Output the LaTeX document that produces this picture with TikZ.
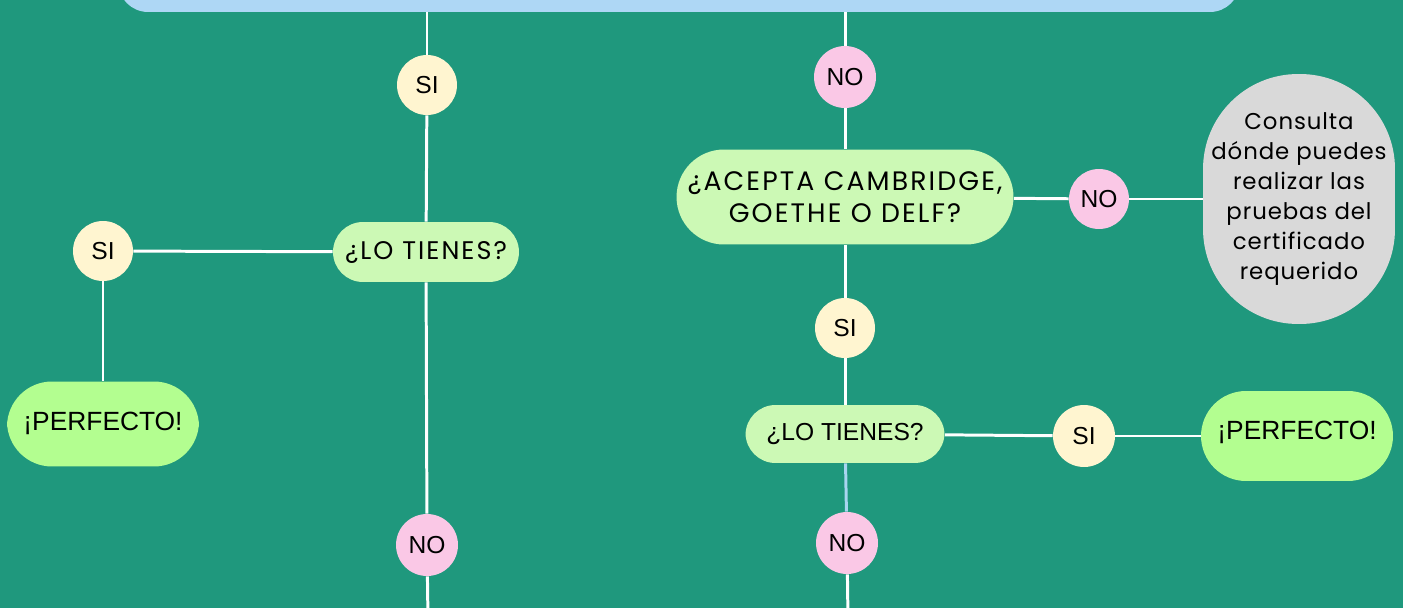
\documentclass[tikz,border=0pt]{standalone}
\usepackage{fontspec}
\setmainfont{Liberation Sans}
\newfontfamily\grotesk[LetterSpace=8]{Poppins}
\newfontfamily\groteskinfo[LetterSpace=4]{Poppins}
\usetikzlibrary{calc}

\definecolor{bggreen}{HTML}{1F987D}
\definecolor{topblue}{HTML}{AED7F5}
\definecolor{yesfill}{HTML}{FFF5D0}
\definecolor{nofill}{HTML}{FAC8E6}
\definecolor{askfill}{HTML}{CCF9B5}
\definecolor{okfill}{HTML}{B3FE90}
\definecolor{infofill}{HTML}{D9D9D9}
\definecolor{linkblue}{HTML}{A8D5F0}

\tikzset{
	yes/.style={circle,fill=yesfill,minimum size=1.2cm,inner sep=0pt,font=\fontsize{14}{16}\selectfont},
	no/.style={circle,fill=nofill,minimum size=1.24cm,inner sep=0pt,font=\fontsize{14}{16}\selectfont},
	ask/.style={rounded corners=0.6cm,fill=askfill,minimum height=1.2cm,inner sep=0pt,align=center},
	ok/.style={rounded corners=0.9cm,fill=okfill,minimum width=3.84cm,minimum height=1.8cm,inner sep=0pt,font=\fontsize{15}{17}\selectfont},
	link/.style={white,line width=1.7pt}
}

\begin{document}
\begin{tikzpicture}[x=0.02cm,y=-0.02cm]
	\fill[bggreen] (0,0) rectangle (1403,608);
	\useasboundingbox (0,0) rectangle (1403,608);
	\clip (0,0) rectangle (1403,608);
	
	\node[fill=topblue,rounded corners=0.6cm,minimum width=22.44cm,minimum height=2cm] (top) at (679,-38) {};
	
	% left branch
	\node[yes] (si1) at (427,85) {SI};
	\node[ask,minimum width=3.72cm,font=\grotesk\fontsize{14.5}{16}\selectfont] (tienes1) at (426,252) {¿LO TIENES?};
	\node[yes] (si2) at (103,251) {SI};
	\node[ok,minimum height=1.7cm] (perfecto1) at (103,424) {\raisebox{3pt}{¡PERFECTO!}};
	\node[no] (no1) at (427,545) {NO};
	\coordinate (end1) at (428,620);
	
	% right branch
	\node[no] (no2) at (845,77) {NO};
	\node[ask,rounded corners=0.95cm,minimum width=6.74cm,minimum height=1.9cm,font=\grotesk\fontsize{15.2}{18.5}\selectfont] (acepta) at (845,197) {¿ACEPTA CAMBRIDGE,\\GOETHE O DELF?};
	\node[no,minimum size=1.2cm] (no3) at (1099,199) {NO};
	\node[fill=infofill,rounded corners=1.9cm,minimum width=3.84cm,minimum height=5cm,inner sep=0pt,align=center,font=\groteskinfo\fontsize{13}{17}\selectfont] (consulta) at (1299,199) {Consulta\\dónde puedes\\realizar las\\pruebas del\\certificado\\requerido};
	\node[yes] (si3) at (845,328) {SI};
	\node[ask,minimum width=3.98cm,minimum height=1.16cm,font=\fontsize{14}{16}\selectfont] (tienes2) at (845,434) {¿LO TIENES?};
	\node[yes,minimum size=1.24cm] (si4) at (1084,436) {SI};
	\node[ok] (perfecto2) at (1297,436) {\raisebox{6pt}{¡PERFECTO!}};
	\node[no] (no4) at (847,543) {NO};
	\coordinate (end2) at (848,620);
	
	\draw[link] (si1) -- (si1 |- top.south);
	\draw[link] (si1) -- (tienes1);
	\draw[link] (tienes1) -- (si2);
	\draw[link] (si2) -- (perfecto1);
	\draw[link] (tienes1) -- (no1);
	\draw[link] (no1) -- (end1);
	
	\draw[link] (no2) -- (no2 |- top.south);
	\draw[link] (no2) -- (acepta);
	\draw[link] (acepta) -- (no3);
	\draw[link] (no3) -- (consulta);
	\draw[link] (acepta) -- (si3);
	\draw[link] (si3) -- (tienes2);
	\draw[link] (tienes2) -- (si4);
	\draw[link] (si4) -- (perfecto2);
	\draw[link,linkblue] (tienes2) -- (no4);
	\draw[link] (no4) -- (end2);
\end{tikzpicture}
\end{document}
